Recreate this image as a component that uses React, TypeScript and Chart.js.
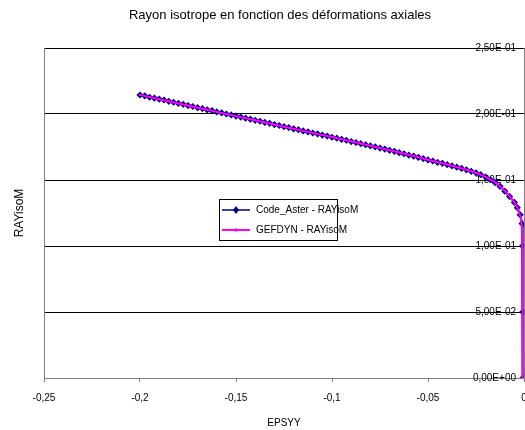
import React, { useEffect, useRef } from "react";
import { Chart, registerables } from "chart.js";

Chart.register(...registerables);

const TITLE = "Rayon isotrope en fonction des déformations axiales";
const X_TITLE = "EPSYY";
const Y_TITLE = "RAYisoM";

const X_TICKS = [-0.25, -0.2, -0.15, -0.1, -0.05, 0];
const X_TICK_LABELS = ["-0,25", "-0,2", "-0,15", "-0,1", "-0,05", "0"];
const Y_TICKS = [0, 0.05, 0.1, 0.15, 0.2, 0.25];
const Y_TICK_LABELS = ["0,00E+00", "5,00E-02", "1,00E-01", "1,50E-01", "2,00E-01", "2,50E-01"];

const ASTER_LABEL = "Code_Aster - RAYisoM";
const ASTER_EPS = [
  -0.2, -0.1975, -0.195, -0.1925, -0.19, -0.1875, -0.185, -0.1825, -0.18, -0.1775,
  -0.175, -0.1725, -0.17, -0.1675, -0.165, -0.1625, -0.16, -0.1575, -0.155, -0.1525,
  -0.15, -0.1475, -0.145, -0.1425, -0.14, -0.1375, -0.135, -0.1325, -0.13, -0.1275,
  -0.125, -0.1225, -0.12, -0.1175, -0.115, -0.1125, -0.11, -0.1075, -0.105, -0.1025,
  -0.1, -0.0975, -0.095, -0.0925, -0.09, -0.0875, -0.085, -0.0825, -0.08, -0.0775,
  -0.075, -0.0725, -0.07, -0.0675, -0.065, -0.0625, -0.06, -0.0575, -0.055, -0.0525,
  -0.05, -0.0475, -0.045, -0.0425, -0.04, -0.0375, -0.035, -0.0325, -0.03, -0.0275,
  -0.025, -0.0225, -0.02, -0.0175, -0.015, -0.0125, -0.01, -0.0075, -0.005, -0.0035,
  -0.002, -0.001, -0.0008, -0.0007, -0.0006,
];
const ASTER_RAY = [
  0.2144, 0.2137, 0.2127, 0.2121, 0.2112, 0.2106, 0.2096, 0.2089, 0.208, 0.2073,
  0.2064, 0.2057, 0.2048, 0.2041, 0.2032, 0.2025, 0.2016, 0.2009, 0.2, 0.1993,
  0.1984, 0.1977, 0.1968, 0.1961, 0.1952, 0.1945, 0.1936, 0.1929, 0.192, 0.1913,
  0.1904, 0.1897, 0.1888, 0.1881, 0.1872, 0.1865, 0.1856, 0.1849, 0.184, 0.1833,
  0.1824, 0.1817, 0.1808, 0.1801, 0.1791, 0.1784, 0.1775, 0.1767, 0.1758, 0.1751,
  0.1742, 0.1734, 0.1725, 0.1717, 0.1707, 0.1699, 0.1689, 0.1681, 0.1671, 0.1662,
  0.1652, 0.1644, 0.1633, 0.1626, 0.1616, 0.1607, 0.1597, 0.1588, 0.1577, 0.1566,
  0.1554, 0.154, 0.1522, 0.1503, 0.148, 0.1452, 0.1415, 0.1375, 0.133, 0.129,
  0.1236, 0.117, 0.1, 0.05, 0.0,
];

const GEF_LABEL = "GEFDYN - RAYisoM";
const GEF_EPS = [
  -0.2, -0.195, -0.19, -0.185, -0.18, -0.175, -0.17, -0.165, -0.16, -0.155,
  -0.15, -0.145, -0.14, -0.135, -0.13, -0.125, -0.12, -0.115, -0.11, -0.105,
  -0.1, -0.095, -0.09, -0.085, -0.08, -0.075, -0.07, -0.065, -0.06, -0.055,
  -0.05, -0.045, -0.04, -0.035, -0.03, -0.025, -0.02, -0.015, -0.01, -0.0075,
  -0.005, -0.003, -0.0015, -0.0009, -0.0008, -0.0007,
];
const GEF_RAY = [
  0.2145, 0.2128, 0.2112, 0.2096, 0.208, 0.2064, 0.2048, 0.2032, 0.2016, 0.2,
  0.1984, 0.1968, 0.1952, 0.1936, 0.192, 0.1904, 0.1888, 0.1872, 0.1856, 0.184,
  0.1825, 0.1809, 0.1793, 0.1776, 0.176, 0.1743, 0.1726, 0.1709, 0.1691, 0.1673,
  0.1654, 0.1635, 0.1617, 0.1598, 0.1578, 0.1555, 0.1524, 0.1483, 0.1418, 0.1378,
  0.1333, 0.1275, 0.1205, 0.11, 0.06, 0.0,
];

const FONT = "'Liberation Sans', Arial, sans-serif";
const ASTER_COLOR = "#000080";
const GEF_COLOR = "#FF00FF";

const legendPlugin = {
  id: "boxLegend",
  afterDatasetsDraw(chart: any) {
    const ctx = chart.ctx;
    const x0 = 219, y0 = 199, w = 118, h = 41;
    ctx.save();
    ctx.fillStyle = "#fff";
    ctx.fillRect(x0, y0, w, h);
    ctx.strokeStyle = "#000";
    ctx.lineWidth = 1;
    ctx.strokeRect(x0 + 0.5, y0 + 0.5, w, h);
    const rows = [210, 230];
    chart.data.datasets.forEach((ds: any, i: number) => {
      const y = rows[i];
      ctx.strokeStyle = ds.borderColor;
      ctx.lineWidth = i === 0 ? 1.5 : 2;
      ctx.beginPath();
      ctx.moveTo(222, y);
      ctx.lineTo(250, y);
      ctx.stroke();
      ctx.fillStyle = ds.pointBackgroundColor;
      const cx = 236;
      if (i === 0) {
        ctx.beginPath();
        ctx.moveTo(cx, y - 4);
        ctx.lineTo(cx + 3, y);
        ctx.lineTo(cx, y + 4);
        ctx.lineTo(cx - 3, y);
        ctx.closePath();
        ctx.fill();
      } else {
        ctx.fillRect(cx - 1.5, y - 1.5, 3, 3);
      }
      ctx.fillStyle = "#000";
      ctx.font = `10px ${FONT}`;
      ctx.textBaseline = "middle";
      ctx.textAlign = "left";
      ctx.fillText(ds.label, 256, y);
    });
    ctx.restore();
  },
};

export default function App() {
  const ref = useRef<HTMLCanvasElement>(null);

  useEffect(() => {
    if (!ref.current) return;
    const chart = new Chart(ref.current, {
      type: "line",
      data: {
        datasets: [
          {
            label: ASTER_LABEL,
            data: ASTER_EPS.map((x, i) => ({ x, y: ASTER_RAY[i] })),
            borderColor: ASTER_COLOR,
            backgroundColor: ASTER_COLOR,
            pointBackgroundColor: ASTER_COLOR,
            pointBorderColor: ASTER_COLOR,
            pointStyle: "rectRot",
            pointRadius: 3.6,
            pointBorderWidth: 0,
            borderWidth: 2,
            tension: 0,
            order: 2,
            yAxisID: "y",
          },
          {
            label: GEF_LABEL,
            data: GEF_EPS.map((x, i) => ({ x, y: GEF_RAY[i] })),
            borderColor: GEF_COLOR,
            backgroundColor: GEF_COLOR,
            pointBackgroundColor: GEF_COLOR,
            pointBorderColor: GEF_COLOR,
            pointStyle: "rect",
            pointRadius: 1.2,
            pointBorderWidth: 0,
            borderWidth: 2,
            tension: 0,
            order: 1,
            yAxisID: "y",
          },
        ],
      },
      options: {
        responsive: false,
        animation: false,
        devicePixelRatio: 1,
        layout: { padding: 0 },
        font: { family: FONT, size: 10 },
        plugins: {
          legend: { display: false },
          tooltip: { enabled: false },
          title: {
            display: true,
            text: TITLE,
            color: "#000",
            font: { family: FONT, size: 13, weight: "normal", lineHeight: 1.2 },
            padding: { top: 7.2, bottom: 25.2 },
          },
        },
        scales: {
          x: {
            type: "linear",
            position: "bottom",
            min: -0.25,
            max: 0,
            afterBuildTicks: (s: any) => {
              s.ticks = X_TICKS.map((v) => ({ value: v }));
            },
            afterFit: (s: any) => {
              s.height = 52;
            },
            ticks: {
              color: "#000",
              font: { family: FONT, size: 10 },
              padding: 10,
              maxRotation: 0,
              autoSkip: false,
              callback: (_v: any, i: number) => X_TICK_LABELS[i],
            },
            grid: {
              drawOnChartArea: false,
              drawTicks: true,
              tickLength: 4,
              color: "#808080",
            },
            border: { display: true, color: "#808080" },
            title: {
              display: true,
              text: X_TITLE,
              color: "#000",
              font: { family: FONT, size: 10 },
              padding: { top: 0, bottom: 1 },
            },
          },
          y: {
            type: "linear",
            position: "right",
            min: 0,
            max: 0.25,
            afterBuildTicks: (s: any) => {
              s.ticks = Y_TICKS.map((v) => ({ value: v }));
            },
            afterFit: (s: any) => {
              s.width = 36;
            },
            ticks: {
              mirror: true,
              padding: -8,
              color: "#000",
              font: { family: FONT, size: 10 },
              autoSkip: false,
              callback: (_v: any, i: number) => Y_TICK_LABELS[i],
            },
            grid: { color: "#000", drawTicks: false, lineWidth: 1 },
            border: { display: true, color: "#808080" },
          },
          yL: {
            type: "linear",
            position: "left",
            min: 0,
            max: 0.25,
            afterFit: (s: any) => {
              s.width = 44;
            },
            ticks: { display: false },
            grid: { display: false, drawTicks: false },
            border: { display: true, color: "#808080" },
            title: {
              display: true,
              text: Y_TITLE,
              color: "#000",
              font: { family: FONT, size: 12 },
              padding: { top: 12, bottom: 0 },
            },
          },
        },
      },
      plugins: [legendPlugin],
    } as any);
    return () => chart.destroy();
  }, []);

  return (
    <div
      style={{
        position: "absolute",
        left: 0,
        top: 0,
        width: 525,
        height: 430,
        overflow: "hidden",
        background: "#fff",
      }}
    >
      <canvas ref={ref} width={560} height={430} style={{ display: "block" }} />
    </div>
  );
}
